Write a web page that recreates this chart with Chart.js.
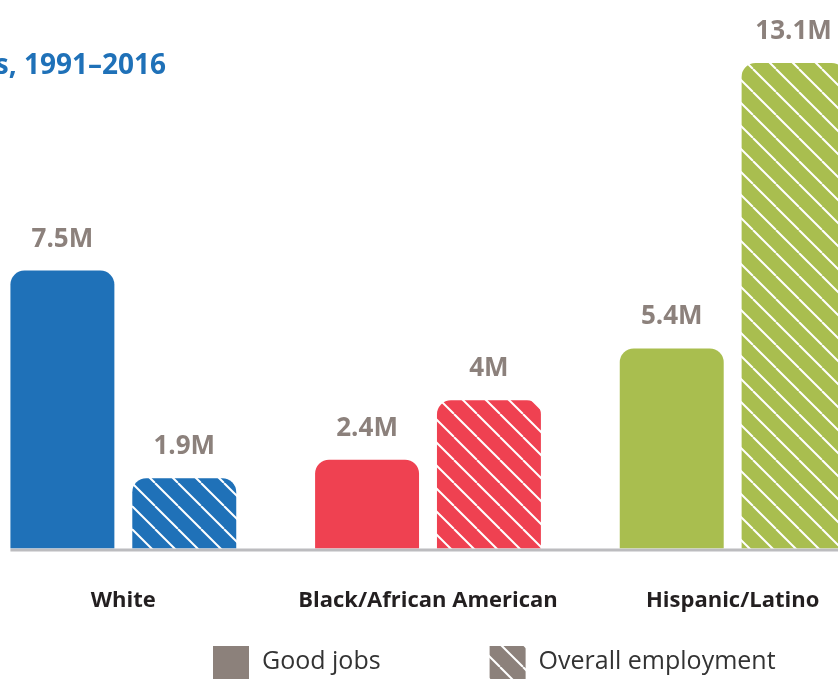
<!DOCTYPE html>
<html>
<head>
<meta charset="utf-8">
<title>Good jobs by race/ethnicity</title>
<script src="https://cdn.jsdelivr.net/npm/chart.js@4.4.1/dist/chart.umd.min.js"></script>
<style>
  html, body { margin: 0; padding: 0; background: #fff; overflow: hidden; }
  #wrap { position: relative; width: 838px; height: 679px; overflow: hidden; }
  #jobs { position: absolute; left: -29px; top: 0; }
</style>
</head>
<body>
<div id="wrap"><canvas id="jobs" width="914" height="679"></canvas></div>
<script>
// ********* Data *********
const groups = ['White', 'Black/African American', 'Hispanic/Latino'];
const seriesNames = ['Good jobs', 'Overall employment'];
const goodJobs = [7.5, 2.4, 5.4];
const overallJobs = [1.9, 4, 13.1];
const groupColors = ['#1f71b8', '#ef4151', '#a9be4f'];
const titleText = 's, 1991\u20132016';

const legendGray = '#8c817b';
const labelGray = '#8c817c';

// ********* Striped fill for the overall employment bars *********
const stripes = (color) => {
  const p = 23;
  const tile = document.createElement('canvas');
  tile.width = p;
  tile.height = p;
  const c = tile.getContext('2d');
  c.fillStyle = color;
  c.fillRect(0, 0, p, p);
  c.strokeStyle = '#fff';
  c.lineWidth = 2;
  for (let k = -p; k <= p; k += p) {
    c.beginPath();
    c.moveTo(k, 0);
    c.lineTo(k + p, p);
    c.stroke();
  }
  return c.createPattern(tile, 'repeat');
};

const topCorners = { topLeft: 14, topRight: 14, bottomLeft: 0, bottomRight: 0 };

// ********* Baseline, value labels, title and legend *********
const extras = {
  id: 'extras',
  beforeDatasetsDraw(chart) {
    const ctx = chart.ctx;
    const first = chart.getDatasetMeta(0).data[0];
    const y = chart.chartArea.bottom + 1.5;
    ctx.save();
    ctx.strokeStyle = '#bcbcbf';
    ctx.lineWidth = 3;
    ctx.beginPath();
    ctx.moveTo(first.x - first.width / 2, y);
    ctx.lineTo(chart.width, y);
    ctx.stroke();
    ctx.restore();
  },
  afterDatasetsDraw(chart) {
    const ctx = chart.ctx;
    ctx.save();

    // values over the bars
    ctx.font = 'bold 26px "Open Sans"';
    ctx.fillStyle = labelGray;
    ctx.textAlign = 'center';
    ctx.textBaseline = 'alphabetic';
    chart.data.datasets.forEach((ds, i) => {
      chart.getDatasetMeta(i).data.forEach((bar, j) => {
        ctx.fillText(ds.data[j] + 'M', bar.x, bar.y - 24);
      });
    });

    // title
    ctx.font = 'bold 28px "Open Sans"';
    ctx.fillStyle = '#1f71b8';
    ctx.textAlign = 'right';
    ctx.fillText(titleText, 195, 74);

    // legend
    const swatches = [legendGray, stripes(legendGray)];
    ctx.font = '25px "Open Sans"';
    ctx.textAlign = 'left';
    let x = 242;
    chart.data.datasets.forEach((ds, i) => {
      ctx.fillStyle = swatches[i];
      ctx.fillRect(x, 646, 36, 36);
      ctx.fillStyle = '#333';
      ctx.fillText(ds.label, x + 49, 669);
      x += 49 + ctx.measureText(ds.label).width + 109;
    });

    ctx.restore();
  }
};

const chart = new Chart(document.getElementById('jobs').getContext('2d'), {
  type: 'bar',
  data: {
    labels: groups,
    datasets: [
      {
        label: seriesNames[0],
        data: goodJobs,
        backgroundColor: groupColors,
        borderRadius: topCorners,
        borderSkipped: 'start',
        barPercentage: 0.853,
        categoryPercentage: 0.8
      },
      {
        label: seriesNames[1],
        data: overallJobs,
        backgroundColor: groupColors.map(stripes),
        borderRadius: topCorners,
        borderSkipped: 'start',
        barPercentage: 0.853,
        categoryPercentage: 0.8
      }
    ]
  },
  options: {
    responsive: false,
    animation: false,
    devicePixelRatio: 1,
    layout: { padding: { top: 0, bottom: 26, left: 0, right: 0 } },
    plugins: {
      legend: { display: false },
      tooltip: { enabled: false },
      title: { display: false }
    },
    scales: {
      x: {
        grid: { display: false, drawTicks: false },
        border: { display: false },
        ticks: {
          font: { family: 'Open Sans', size: 22, weight: 'bold' },
          color: '#231f20',
          padding: 39,
          maxRotation: 0,
          autoSkip: false
        }
      },
      y: { display: false, min: 0, max: 14.8 }
    }
  },
  plugins: [extras]
});
</script>
</body>
</html>
